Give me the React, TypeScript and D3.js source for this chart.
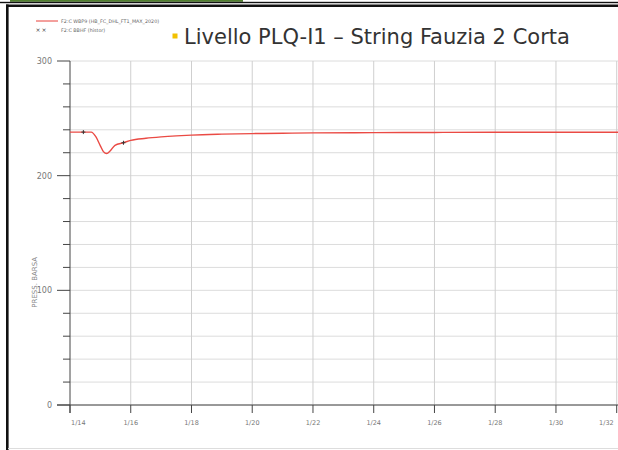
import * as d3 from "d3";

// days of January (1/32 is what the source tool prints for Feb 1)
const pressDays = [14, 14.7, 14.85, 15.0, 15.1, 15.21, 15.32, 15.48, 15.76, 16, 16.5, 17, 17.5, 18, 19, 20, 21, 22, 24, 26, 28, 30, 32.05];
const pressVals = [238, 238, 234, 226, 221, 219.3, 221.5, 226.5, 228.7, 230.8, 232.6, 233.8, 234.7, 235.4, 236.2, 236.7, 237, 237.3, 237.5, 237.7, 237.8, 237.8, 237.8];
const histDays = [14.44, 15.76];
const histVals = [238, 228.7];
const xTicks = [14, 16, 18, 20, 22, 24, 26, 28, 30, 32];
const yMajor = [0, 100, 200, 300];
const yMinor = d3.range(0, 301, 20);
const legendLabels = ["F2:C WBP9 (HB_FC_DHL_FT1_MAX_2020)", "F2:C BBHF (histor)"];
const title = "Livello PLQ-I1 – String Fauzia 2 Corta";
const yTitle = "PRESS. BARSA";

export default function App() {
  const W = 618, H = 450;
  const x = d3.scaleLinear([14, 32], [70, 616.7]);
  const y = d3.scaleLinear([0, 300], [405, 61]);
  const pts = pressDays.map((d, i) => [x(d), y(pressVals[i])] as [number, number]);
  const line = d3.line().curve(d3.curveMonotoneX)(pts)!;
  const font = "DejaVu Sans, Verdana, sans-serif";
  return (
    <svg width={W} height={H} style={{ position: "fixed", left: 0, top: 0, background: "#fff" }} fontFamily={font}>
      {/* frame */}
      <rect x={10} y={0} width={233} height={1.8} fill="#4f7d2c" />
      <rect x={0} y={1.8} width={W} height={1.4} fill="#111" />
      <rect x={6} y={4.5} width={W - 6} height={2.5} fill="#111" />
      <rect x={6} y={4.5} width={2.6} height={H} fill="#111" />
      <line x1={8} x2={W} y1={448.5} y2={448.5} stroke="#ddd" />

      {/* legend */}
      <line x1={36} x2={58} y1={21} y2={21} stroke="#e8403a" strokeWidth={1} />
      <text x={61} y={22.5} fontSize={4.8} fill="#666">{legendLabels[0]}</text>
      {[38, 44].map((cx) => (
        <text key={cx} x={cx} y={32} fontSize={6} fill="#444" textAnchor="middle">×</text>
      ))}
      <text x={61} y={31.5} fontSize={4.8} fill="#666">{legendLabels[1]}</text>

      {/* title */}
      <rect x={172.5} y={33.5} width={5} height={5} fill="#f2c100" />
      <text x={184} y={44} fontSize={21} fill="#333">{title}</text>

      {/* grid */}
      {yMinor.map((v) => (
        <line key={"h" + v} x1={70} x2={W} y1={y(v)} y2={y(v)} stroke="#dcdcdc" />
      ))}
      {xTicks.slice(1).map((d) => (
        <line key={"v" + d} x1={x(d)} x2={x(d)} y1={y(300)} y2={y(0)} stroke="#cfcfcf" />
      ))}

      {/* y axis */}
      <line x1={70} x2={70} y1={y(300)} y2={y(0) + 8} stroke="#444" />
      {yMinor.map((v) => (
        <line key={"yt" + v} x1={yMajor.includes(v) ? 57 : 63} x2={70} y1={y(v)} y2={y(v)} stroke="#444" />
      ))}
      {yMajor.map((v) => (
        <text key={"yl" + v} x={52} y={y(v) + 3} fontSize={8} fill="#777" textAnchor="end">{v}</text>
      ))}
      <text transform={`translate(37,${y(107)}) rotate(-90)`} fontSize={7} fill="#888" textAnchor="middle">{yTitle}</text>

      {/* x axis */}
      <line x1={57} x2={W} y1={y(0)} y2={y(0)} stroke="#444" />
      {xTicks.map((d) => (
        <line key={"xt" + d} x1={x(d)} x2={x(d)} y1={y(0)} y2={y(0) + 8} stroke="#444" />
      ))}
      {xTicks.map((d, i) => (
        <text key={"xl" + d} x={i === 0 ? x(d) + 1 : i === xTicks.length - 1 ? x(d) - 3 : x(d)} y={y(0) + 20}
          fontSize={6.5} fill="#777" textAnchor={i === 0 ? "start" : i === xTicks.length - 1 ? "end" : "middle"}>
          {`1/${d}`}
        </text>
      ))}

      {/* series */}
      <path d={line} fill="none" stroke="#ea4a44" strokeWidth={1.4} />
      {histDays.map((d, i) => (
        <path key={"m" + i} d={`M${x(d) - 2},${y(histVals[i])}h4M${x(d)},${y(histVals[i]) - 2}v4`}
          stroke="#333" strokeWidth={1} />
      ))}
    </svg>
  );
}
